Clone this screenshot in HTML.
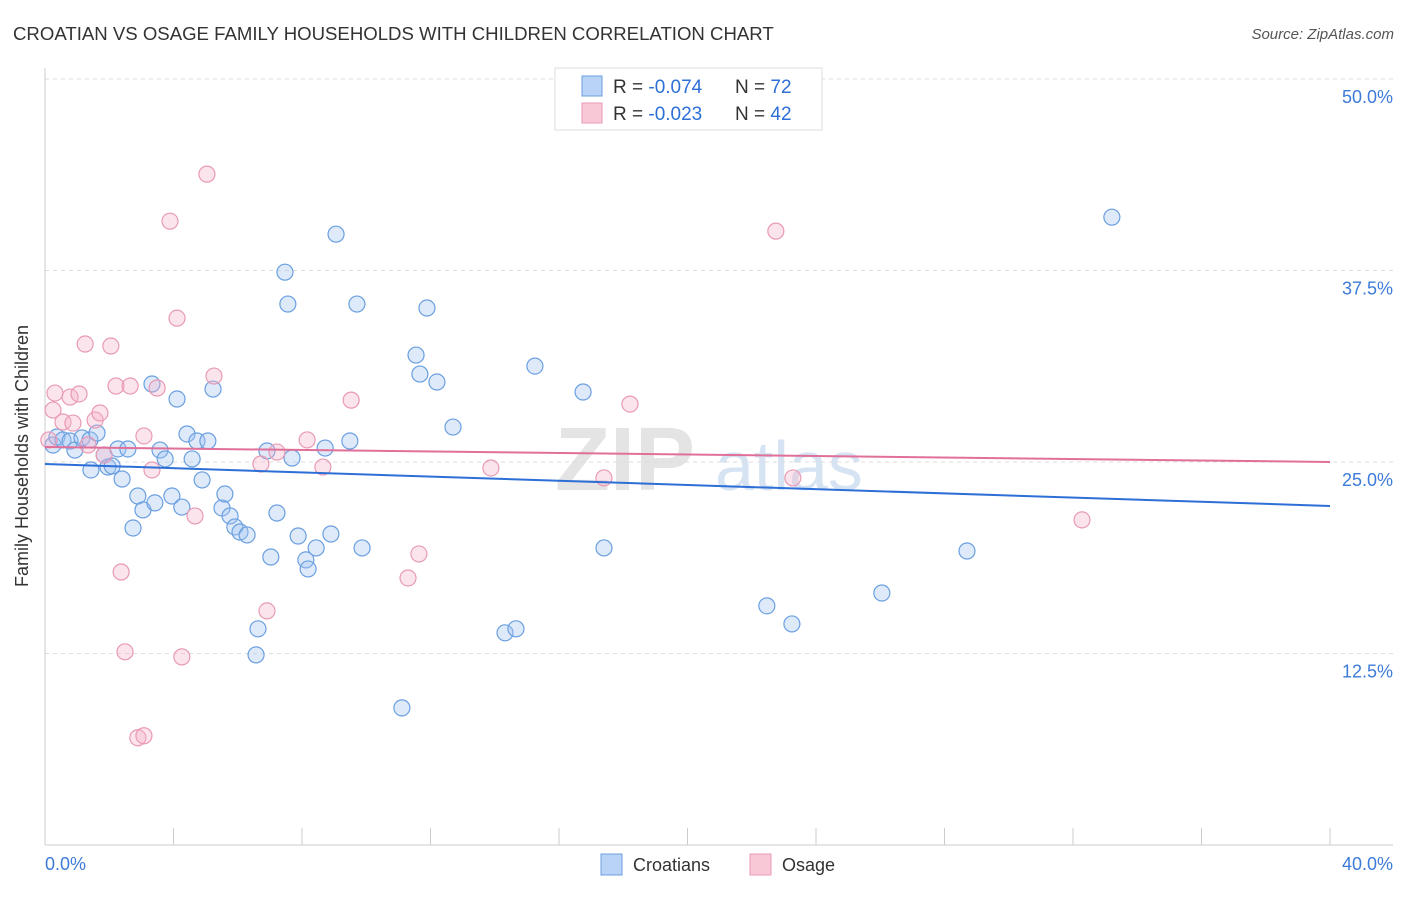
<!DOCTYPE html>
<html><head><meta charset="utf-8">
<style>
body{margin:0;background:#fff;font-family:"Liberation Sans",sans-serif;}
svg text{font-family:"Liberation Sans",sans-serif;}
</style></head>
<body>
<svg id="chart" width="1406" height="892" viewBox="0 0 1406 892" xmlns="http://www.w3.org/2000/svg">
<text x="13" y="40" font-size="18.6" fill="#333">CROATIAN VS OSAGE FAMILY HOUSEHOLDS WITH CHILDREN CORRELATION CHART</text>
<text x="1394" y="39" font-size="15" fill="#555" font-style="italic" text-anchor="end">Source: ZipAtlas.com</text>
<g>
<text x="555" y="490" font-size="90" fill="#e4e4e4" font-family="Liberation Serif" font-weight="bold">ZIP</text>
<text x="715" y="490" font-size="70" fill="#d6e3f3">atlas</text>
</g>
<g id="grid"></g>
<g id="axes"></g>
<g id="marks"></g>
<text x="28" y="456" font-size="18" fill="#333" text-anchor="middle" transform="rotate(-90 28 456)">Family Households with Children</text>
<g>
<rect x="555" y="68" width="267" height="62" fill="#fff" stroke="#ddd"/>
<rect x="582" y="76" width="20" height="20" fill="#b8d3f5" stroke="#6a9fe0"/>
<rect x="582" y="103" width="20" height="20" fill="#f8c8d7" stroke="#e89ab4"/>
<text x="613" y="93" font-size="19" fill="#333">R = <tspan fill="#2d6fd6">-0.074</tspan></text>
<text x="735" y="93" font-size="19" fill="#333">N = <tspan fill="#2d6fd6">72</tspan></text>
<text x="613" y="120" font-size="19" fill="#333">R = <tspan fill="#2d6fd6">-0.023</tspan></text>
<text x="735" y="120" font-size="19" fill="#333">N = <tspan fill="#2d6fd6">42</tspan></text>
</g>
<g>
<rect x="601" y="854" width="21" height="21" fill="#b8d3f5" stroke="#6a9fe0"/>
<text x="633" y="871" font-size="18" fill="#333">Croatians</text>
<rect x="750" y="854" width="21" height="21" fill="#f8c8d7" stroke="#e89ab4"/>
<text x="782" y="871" font-size="18" fill="#333">Osage</text>
</g>
</svg>
<script>
const yTicks=[12.5,25,37.5,50];
const yTickLabels=["12.5%","25.0%","37.5%","50.0%"];
const xTicks=[0,4,8,12,16,20,24,28,32,36,40];
const xEndLabels=["0.0%","40.0%"];
const blueX=[0.25,0.37,0.56,0.78,0.93,1.15,1.40,1.62,1.84,1.96,2.09,1.43,2.27,2.40,2.58,2.74,2.89,3.05,3.33,3.42,3.58,3.74,3.95,4.11,4.26,4.42,4.58,4.73,4.89,5.07,5.23,5.51,5.60,5.76,5.91,6.07,6.29,6.57,6.63,6.91,7.03,7.22,7.47,7.56,7.69,7.88,8.12,8.19,8.44,8.72,8.90,9.06,9.49,9.71,9.87,11.11,11.55,11.67,11.89,12.20,12.70,14.32,14.66,15.25,16.75,17.40,22.47,23.25,26.05,28.70,33.21];
const blueY=[26.11,26.63,26.44,26.37,25.78,26.57,26.44,26.89,25.46,24.67,24.74,24.48,25.85,23.89,25.85,20.69,22.78,21.87,30.09,22.33,25.78,25.20,22.78,29.11,22.06,26.83,25.20,26.37,23.83,26.37,29.76,22.00,22.91,21.48,20.76,20.43,20.24,12.41,14.11,25.72,18.80,21.67,37.39,35.31,25.26,20.17,18.61,18.02,19.39,25.91,20.30,39.87,26.37,35.31,19.39,8.95,31.98,30.74,35.05,30.22,27.28,13.85,14.11,31.26,29.57,19.39,15.61,14.43,16.45,19.19,40.98];
const pinkX=[0.25,0.31,0.56,0.78,0.87,1.06,1.25,1.34,1.56,1.71,1.84,2.05,2.21,2.37,2.49,2.65,2.89,3.08,3.08,3.33,3.49,3.89,4.11,4.26,4.67,5.04,5.26,6.72,6.91,7.22,8.16,8.65,9.53,11.30,11.64,13.88,17.40,18.21,22.75,23.28,32.28,0.12];
const pinkY=[28.39,29.50,27.61,29.24,27.54,29.44,32.70,26.11,27.74,28.20,25.46,32.57,29.96,17.82,12.61,29.96,7.00,7.13,26.70,24.48,29.83,40.72,34.39,12.28,21.48,43.79,30.61,24.87,15.28,25.65,26.44,24.67,29.04,17.43,19.00,24.61,23.96,28.78,40.07,23.96,21.22,26.44];
const blueTrend=[24.87,22.13];
const pinkTrend=[25.98,25.0];

const NS="http://www.w3.org/2000/svg";
const X0=45,X1=1330;
function sx(v){return X0+(v/40)*(X1-X0);}
function sy(v){return 845-(v/50)*(845-79);}
function mk(tag,attrs,parent){const e=document.createElementNS(NS,tag);for(const k in attrs)e.setAttribute(k,attrs[k]);parent.appendChild(e);return e;}
const grid=document.getElementById('grid'),axes=document.getElementById('axes'),marks=document.getElementById('marks');
yTicks.forEach((t,i)=>{
  const l=mk('line',{x1:45,x2:1393,y1:sy(t),y2:sy(t),stroke:'#ddd','stroke-dasharray':'4,4'},grid);
  
  
  const tx=mk('text',{x:1393,y:sy(t)+24,'font-size':18,fill:'#3d7bd9','text-anchor':'end'},grid);
  tx.textContent=yTickLabels[i];
  
  
});
const ax=mk('line',{x1:45,x2:1393,y1:845,y2:845,stroke:'#ccc'},axes);


const ay=mk('line',{x1:45,x2:45,y1:68,y2:845,stroke:'#ccc'},axes);


xTicks.forEach(t=>{
  const l=mk('line',{x1:sx(t),x2:sx(t),y1:828,y2:845,stroke:'#ccc'},axes);
  
  
});
const xl0=mk('text',{x:45,y:870,'font-size':18,fill:'#3d7bd9'},axes);xl0.textContent=xEndLabels[0];


const xl1=mk('text',{x:1393,y:870,'font-size':18,fill:'#3d7bd9','text-anchor':'end'},axes);xl1.textContent=xEndLabels[1];


blueX.forEach((v,i)=>{
  const c=mk('circle',{cx:sx(v),cy:sy(blueY[i]),r:8,fill:'rgba(160,196,240,0.35)',stroke:'#6a9fe0','stroke-width':1.2},marks);
  
  
});
pinkX.forEach((v,i)=>{
  const c=mk('circle',{cx:sx(v),cy:sy(pinkY[i]),r:8,fill:'rgba(245,178,200,0.35)',stroke:'#e89ab4','stroke-width':1.2},marks);
  
  
});
const bt=mk('line',{x1:sx(0),x2:sx(40),y1:sy(blueTrend[0]),y2:sy(blueTrend[1]),stroke:'#2d6fd6','stroke-width':2},marks);


const pt=mk('line',{x1:sx(0),x2:sx(40),y1:sy(pinkTrend[0]),y2:sy(pinkTrend[1]),stroke:'#e0709a','stroke-width':2},marks);


</script>
</body></html>
